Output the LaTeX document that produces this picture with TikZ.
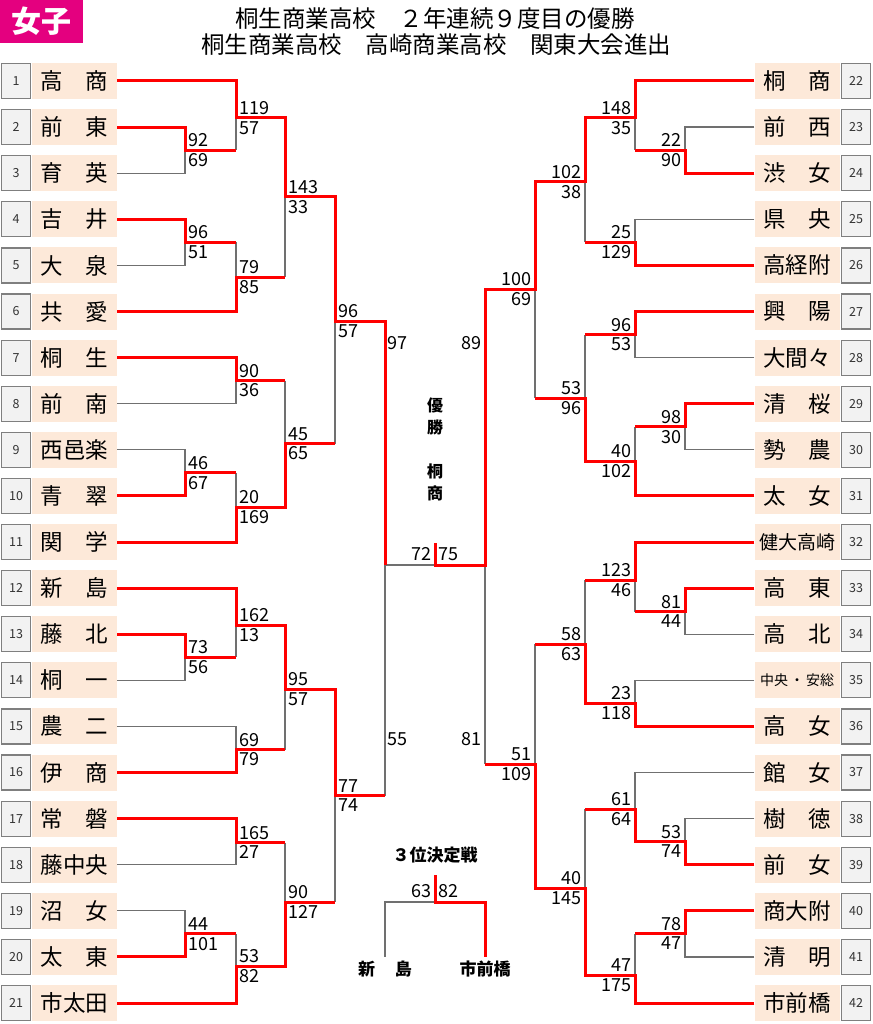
\documentclass[tikz,border=0pt]{standalone}
\usepackage{fontspec}
\setmainfont{Noto Sans CJK JP}
\usepackage{xcolor}
\usepackage{tikz}

\definecolor{peach}{HTML}{FDE9D9}
\definecolor{seedfill}{HTML}{F2F2F2}
\definecolor{seedline}{HTML}{7F7F7F}
\definecolor{linegray}{HTML}{707070}
\definecolor{tagpink}{HTML}{E4007F}

\newcommand{\namefont}{\fontsize{22.5}{24}\selectfont}
\newcommand{\scorefont}{\fontsize{18}{19}\selectfont}
\newcommand{\twoname}[2]{\makebox[3em][s]{#1\hfill{}#2}}

\begin{document}
\begin{tikzpicture}[x=1pt,y=-1pt,
    seed/.style={draw=seedline, line width=1.2pt, fill=seedfill, minimum width=29pt,
        minimum height=35pt, inner sep=0pt, text=black!80, font=\fontsize{12.5}{13}\selectfont},
    team/.style={fill=peach, minimum width=85pt, minimum height=36pt, inner sep=0pt, font=\namefont},
    win/.style={red, line width=3pt},
    lose/.style={linegray, line width=1.3pt},
    score/.style={inner sep=0pt, font=\scorefont},
    topL/.style={anchor=south west, inner sep=3pt, font=\scorefont},
    botL/.style={anchor=north west, inner sep=3pt, font=\scorefont},
    topR/.style={anchor=south east, inner sep=3pt, font=\scorefont},
    botR/.style={anchor=north east, inner sep=3pt, font=\scorefont},
    label/.style={inner sep=4pt, font=\fontsize{17}{18}\selectfont\bfseries}]
    \useasboundingbox (0,0) rectangle (872,1024);

    % heading
    \node[fill=tagpink, minimum width=83pt, minimum height=43pt, inner sep=0pt, text=white,
        font=\fontsize{30}{30}\selectfont\bfseries] (tag) at (41.5,21.5) {女子};
    \node[font=\fontsize{23.5}{24}\selectfont] (title1) at (435,19) {桐生商業高校　２年連続９度目の優勝};
    \node[font=\fontsize{23.5}{24}\selectfont] (title2) at (436,45) {桐生商業高校　高崎商業高校　関東大会進出};

    % teams, left half
    \foreach \i/\n in {1/{\twoname{高}{商}}, 2/{\twoname{前}{東}}, 3/{\twoname{育}{英}},
        4/{\twoname{吉}{井}}, 5/{\twoname{大}{泉}}, 6/{\twoname{共}{愛}}, 7/{\twoname{桐}{生}},
        8/{\twoname{前}{南}}, 9/西邑楽, 10/{\twoname{青}{翠}}, 11/{\twoname{関}{学}},
        12/{\twoname{新}{島}}, 13/{\twoname{藤}{北}}, 14/{\twoname{桐}{一}}, 15/{\twoname{農}{二}},
        16/{\twoname{伊}{商}}, 17/{\twoname{常}{磐}}, 18/藤中央, 19/{\twoname{沼}{女}},
        20/{\twoname{太}{東}}, 21/市太田}{
        \node[seed] (n\i) at (16,{81+(\i-1)*46.1}) {\i};
        \node[team] (L\i) at (74.5,{81+(\i-1)*46.1}) {\n};
    }

    % teams, right half
    \foreach \i/\n in {22/{\twoname{桐}{商}}, 23/{\twoname{前}{西}}, 24/{\twoname{渋}{女}},
        25/{\twoname{県}{央}}, 26/高経附, 27/{\twoname{興}{陽}}, 28/大間々,
        29/{\twoname{清}{桜}}, 30/{\twoname{勢}{農}}, 31/{\twoname{太}{女}},
        32/{\fontsize{19}{20}\selectfont 健大高崎}, 33/{\twoname{高}{東}}, 34/{\twoname{高}{北}},
        35/{\fontsize{14}{16}\selectfont\makebox[74pt][s]{中央\hfill{}・\hfill{}安総}},
        36/{\twoname{高}{女}}, 37/{\twoname{館}{女}}, 38/{\twoname{樹}{徳}}, 39/{\twoname{前}{女}},
        40/商大附, 41/{\twoname{清}{明}}, 42/市前橋}{
        \node[seed] (n\i) at (856,{81+(\i-22)*46.1}) {\i};
        \node[team] (R\i) at (797,{81+(\i-22)*46.1}) {\n};
    }

    % match points
    \foreach \m/\x/\y in {lA/185/150.2, lB/236/118, lC/185/242.4, lD/236/277, lE/285/197,
        lF/236/380.7, lG/185/472.9, lH/236/507, lI/285/443.5, lJ/335/321, lK/385/565,
        lL/185/657.3, lM/236/625, lN/236/749.5, lO/285/689, lP/236/842.5, lQ/185/933.9,
        lR/236/966, lS/285/902, lT/335/795.6,
        rA/685/150.2, rB/635/118, rC/635/242.4, rD/585/182, rE/635/334.6, rF/685/426.8,
        rG/635/461.4, rH/585/398, rI/535/289, rJ/685/611.5, rK/635/580, rL/635/703.4,
        rM/585/644, rN/685/841.7, rO/635/809, rP/685/933.9, rQ/635/975, rR/585/888,
        rS/535/764, rT/485/565}
        \coordinate (\m) at (\x,\y);
    \coordinate (fin) at (435,565);
    \coordinate (fintop) at (435,543);
    \coordinate (thr) at (435,902);
    \coordinate (thrtop) at (435,875);

    % lost lines
    \foreach \t/\m in {L3/lA, L5/lC, L8/lF, L9/lG, L14/lL, L15/lN, L18/lP, L19/lQ}
        \draw[lose] (\t.east) -| (\m);
    \foreach \t/\m in {R23/rA, R25/rC, R28/rE, R30/rF, R34/rJ, R35/rL, R37/rO, R38/rN, R41/rP}
        \draw[lose] (\t.west) -| (\m);
    \foreach \a/\m in {lA/lB, lC/lD, lD/lE, lF/lI, lG/lH, lI/lJ, lL/lM, lN/lO, lP/lS,
        lQ/lR, lS/lT, lT/lK, rA/rB, rC/rD, rE/rH, rF/rG, rH/rI, rJ/rK, rK/rM, rM/rS,
        rO/rR, rP/rQ, rS/rT}
        \draw[lose] (\a -| \m) -- (\m);
    \draw[lose] (lK) -- (fin);

    % won lines, left
    \draw[win] (L1.east) -| (lB) -| (lE) -| (lJ) -| (lK);
    \draw[win] (L2.east) -| (lA) -- (lA -| lB);
    \draw[win] (L4.east) -| (lC) -- (lC -| lD);
    \draw[win] (L6.east) -| (lD) -- (lD -| lE);
    \draw[win] (L7.east) -| (lF) -- (lF -| lI);
    \draw[win] (L10.east) -| (lG) -- (lG -| lH);
    \draw[win] (L11.east) -| (lH) -| (lI) -- (lI -| lJ);
    \draw[win] (L12.east) -| (lM) -| (lO) -| (lT) -- (lT -| lK);
    \draw[win] (L13.east) -| (lL) -- (lL -| lM);
    \draw[win] (L16.east) -| (lN) -- (lN -| lO);
    \draw[win] (L17.east) -| (lP) -- (lP -| lS);
    \draw[win] (L20.east) -| (lQ) -- (lQ -| lR);
    \draw[win] (L21.east) -| (lR) -| (lS) -- (lS -| lT);

    % won lines, right
    \draw[win] (R22.west) -| (rB) -| (rD) -| (rI) -| (rT) -- (fin) -- (fintop);
    \draw[win] (R24.west) -| (rA) -- (rA -| rB);
    \draw[win] (R26.west) -| (rC) -- (rC -| rD);
    \draw[win] (R27.west) -| (rE) -- (rE -| rH);
    \draw[win] (R29.west) -| (rF) -- (rF -| rG);
    \draw[win] (R31.west) -| (rG) -| (rH) -- (rH -| rI);
    \draw[win] (R32.west) -| (rK) -- (rK -| rM);
    \draw[win] (R33.west) -| (rJ) -- (rJ -| rK);
    \draw[win] (R36.west) -| (rL) -| (rM) -- (rM -| rS);
    \draw[win] (R39.west) -| (rN) -| (rO) -- (rO -| rR);
    \draw[win] (R40.west) -| (rP) -- (rP -| rQ);
    \draw[win] (R42.west) -| (rQ) -| (rR) -| (rS) -- (rS -| rT);

    % scores
    \foreach \m/\a/\b in {lA/92/69, lB/119/57, lC/96/51, lD/79/85, lE/143/33, lF/90/36,
        lG/46/67, lH/20/169, lI/45/65, lJ/96/57, lL/73/56, lM/162/13, lN/69/79, lO/95/57,
        lP/165/27, lQ/44/101, lR/53/82, lS/90/127, lT/77/74}{
        \node[topL] (\m-up) at (\m) {\a};
        \node[botL] (\m-dn) at (\m) {\b};
    }
    \foreach \m/\a/\b in {rA/22/90, rB/148/35, rC/25/129, rD/102/38, rE/96/53, rF/98/30,
        rG/40/102, rH/53/96, rI/100/69, rJ/81/44, rK/123/46, rL/23/118, rM/58/63, rN/53/74,
        rO/61/64, rP/78/47, rQ/47/175, rR/40/145, rS/51/109}{
        \node[topR] (\m-up) at (\m) {\a};
        \node[botR] (\m-dn) at (\m) {\b};
    }
    \node[score] (lK-up) at (397,343) {97};
    \node[score] (lK-dn) at (397,739) {55};
    \node[score] (rT-up) at (471.5,343) {89};
    \node[score] (rT-dn) at (471,739) {81};
    \node[score] (fin-l) at (421.5,554) {72};
    \node[score] (fin-r) at (448,554) {75};

    % champion
    \node[align=center, inner sep=0pt, font=\fontsize{16}{22}\selectfont\bfseries] (champ)
        at (435,449) {優\\勝\\[22pt]桐\\商};

    % third place
    \node[label] (third) at (435,855) {３位決定戦};
    \node[label] (tN) at (385,969) {\makebox[54pt][s]{新\hfill{}島}};
    \node[label] (tI) at (485,969) {市前橋};
    \node[score] (thr-l) at (421.5,891) {63};
    \node[score] (thr-r) at (448,891) {82};
    \draw[lose] (tN.north) |- (thr);
    \draw[win] (tI.north) |- (thr) -- (thrtop);
\end{tikzpicture}
\end{document}
